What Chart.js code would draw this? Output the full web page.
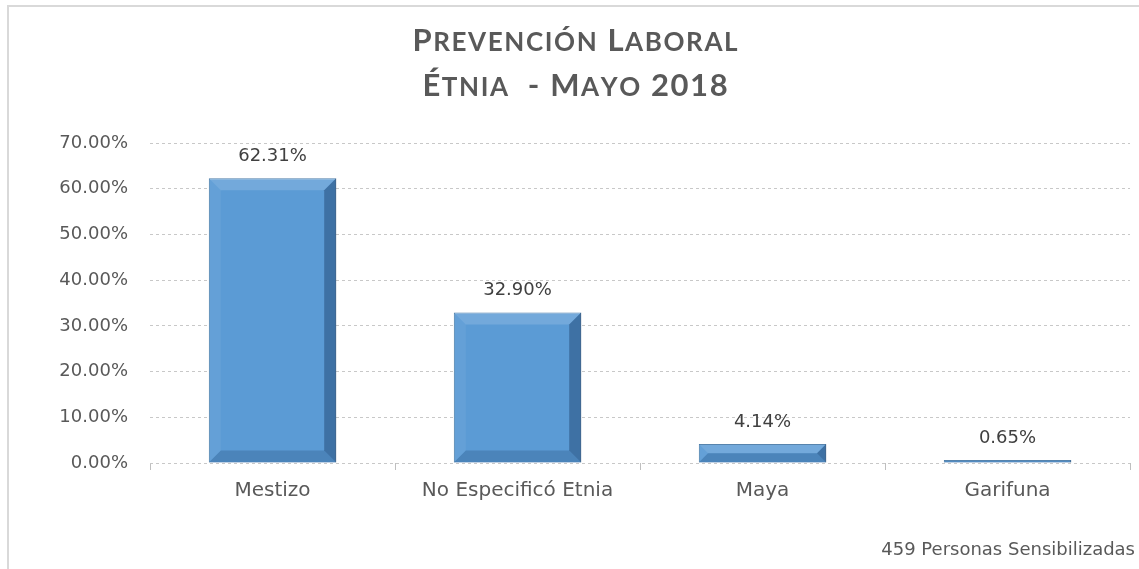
<!DOCTYPE html>
<html>
<head>
<meta charset="utf-8">
<script src="https://cdn.jsdelivr.net/npm/chart.js@4.4.1/dist/chart.umd.min.js"></script>
<style>
  html, body { margin: 0; padding: 0; background: #fff; }
  #wrap { width: 1139px; height: 569px; position: relative; }
</style>
</head>
<body>
<div id="wrap"><canvas id="grafico"></canvas></div>
<script>
// datos del gráfico
const categorias = ['Mestizo', 'No Especificó Etnia', 'Maya', 'Garifuna'];
const porcentajes = [62.31, 32.90, 4.14, 0.65];
const tituloLineas = ['Prevención Laboral', 'Étnia  - Mayo 2018'];
const nota = '459 Personas Sensibilizadas';
const ejeMax = 70;
const ejePaso = 10;

const grisTexto = '#595959';
const fuenteTexto = '"DejaVu Sans", sans-serif';
const fuenteTitulo = 'Lato, "Open Sans", sans-serif';

// marco gris claro (arriba e izquierda, como en el original)
const marco = {
    id: 'marco',
    beforeDraw(chart) {
        const ctx = chart.ctx;
        ctx.save();
        ctx.strokeStyle = '#d9d9d9';
        ctx.lineWidth = 2;
        ctx.beginPath();
        ctx.moveTo(8, chart.height);
        ctx.lineTo(8, 6);
        ctx.lineTo(chart.width, 6);
        ctx.stroke();
        ctx.restore();
    }
};

// título en versalitas (el canvas no las soporta directamente)
function versalitas(ctx, texto, cx, base, grande, chica, espacio) {
    const trozos = [];
    for (const c of texto) {
        const esMinus = c !== c.toUpperCase();
        trozos.push({ c: c.toUpperCase(), t: esMinus ? chica : grande });
    }
    let ancho = 0;
    trozos.forEach(tr => {
        ctx.font = `bold ${tr.t}px ${fuenteTitulo}`;
        tr.w = ctx.measureText(tr.c).width + espacio;
        ancho += tr.w;
    });
    ancho -= espacio;
    let x = cx - ancho / 2;
    ctx.textAlign = 'left';
    ctx.textBaseline = 'alphabetic';
    trozos.forEach(tr => {
        ctx.font = `bold ${tr.t}px ${fuenteTitulo}`;
        ctx.fillText(tr.c, x, base);
        x += tr.w;
    });
}

const titulo = {
    id: 'titulo',
    afterDraw(chart) {
        const ctx = chart.ctx;
        ctx.save();
        ctx.fillStyle = grisTexto;
        const cx = 575;
        versalitas(ctx, tituloLineas[0], cx, 51, 31, 26, 1.6);
        versalitas(ctx, tituloLineas[1], cx, 96, 31, 26, 1.6);
        // nota al pie
        ctx.font = `18px ${fuenteTexto}`;
        ctx.textAlign = 'right';
        ctx.textBaseline = 'middle';
        ctx.fillText(nota, chart.width - 4, 550);
        ctx.restore();
    }
};

// bisel de las barras + etiquetas de valor
const biselYEtiquetas = {
    id: 'biselYEtiquetas',
    afterDatasetsDraw(chart) {
        const ctx = chart.ctx;
        const meta = chart.getDatasetMeta(0);
        ctx.save();
        meta.data.forEach((bar, i) => {
            const x0 = bar.x - bar.width / 2;
            const x1 = bar.x + bar.width / 2;
            const y0 = bar.y;
            const y1 = bar.base;
            const h = y1 - y0;
            const b = Math.min(12, h / 2);
            ctx.fillStyle = 'rgba(255,255,255,0.15)';
            ctx.beginPath();
            ctx.moveTo(x0, y0); ctx.lineTo(x1, y0); ctx.lineTo(x1 - b, y0 + b); ctx.lineTo(x0 + b, y0 + b);
            ctx.closePath(); ctx.fill();
            ctx.fillStyle = 'rgba(255,255,255,0.06)';
            ctx.beginPath();
            ctx.moveTo(x0, y0); ctx.lineTo(x0 + b, y0 + b); ctx.lineTo(x0 + b, y1 - b); ctx.lineTo(x0, y1);
            ctx.closePath(); ctx.fill();
            ctx.fillStyle = 'rgba(20,50,90,0.40)';
            ctx.beginPath();
            ctx.moveTo(x1, y0); ctx.lineTo(x1, y1); ctx.lineTo(x1 - b, y1 - b); ctx.lineTo(x1 - b, y0 + b);
            ctx.closePath(); ctx.fill();
            ctx.fillStyle = 'rgba(20,50,90,0.22)';
            ctx.beginPath();
            ctx.moveTo(x0, y1); ctx.lineTo(x1, y1); ctx.lineTo(x1 - b, y1 - b); ctx.lineTo(x0 + b, y1 - b);
            ctx.closePath(); ctx.fill();

            ctx.fillStyle = '#404040';
            ctx.font = `18px ${fuenteTexto}`;
            ctx.textAlign = 'center';
            ctx.textBaseline = 'middle';
            ctx.fillText(porcentajes[i].toFixed(2) + '%', bar.x, y0 - 22);
        });
        ctx.restore();
    }
};

document.addEventListener('DOMContentLoaded', () => {
    const ctx = document.getElementById('grafico').getContext('2d');

    new Chart(ctx, {
        type: 'bar',
        data: {
            labels: categorias,
            datasets: [{
                data: porcentajes,
                backgroundColor: '#5b9bd5',
                borderColor: '#3a6f9f',
                borderWidth: 1,
                categoryPercentage: 1,
                barPercentage: 0.52
            }]
        },
        options: {
            responsive: true,
            maintainAspectRatio: false,
            animation: false,
            layout: { padding: { left: 0, right: 9, top: 143, bottom: 46 } },
            plugins: {
                legend: { display: false },
                tooltip: { enabled: false },
                title: { display: false }
            },
            scales: {
                x: {
                    border: { display: false },
                    grid: {
                        offset: true,
                        drawOnChartArea: false,
                        drawTicks: true,
                        tickLength: 7,
                        color: '#bfbfbf'
                    },
                    ticks: {
                        color: grisTexto,
                        font: { family: fuenteTexto, size: 20 },
                        padding: 9
                    },
                    afterFit(scale) { scale.height = 60; }
                },
                y: {
                    min: 0,
                    max: ejeMax,
                    border: { display: false, dash: [3, 3] },
                    grid: {
                        color: '#c8c8c8',
                        drawTicks: false
                    },
                    ticks: {
                        stepSize: ejePaso,
                        color: grisTexto,
                        font: { family: fuenteTexto, size: 18 },
                        padding: 22,
                        callback: v => v.toFixed(2) + '%'
                    },
                    afterFit(scale) { scale.width = 150; }
                }
            }
        },
        plugins: [marco, biselYEtiquetas, titulo]
    });
});
</script>
</body>
</html>
